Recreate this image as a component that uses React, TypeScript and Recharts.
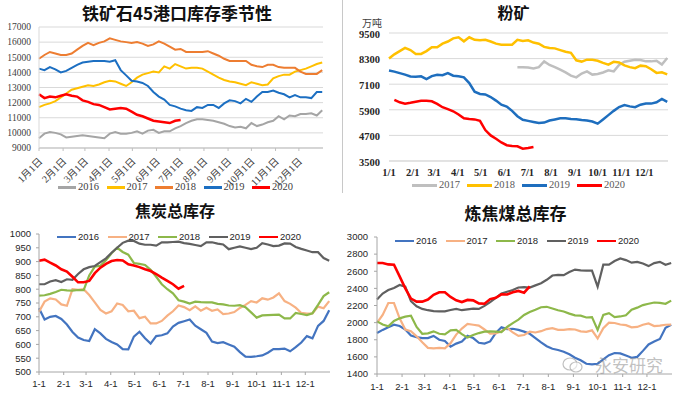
import React from 'react';
import { LineChart, Line, XAxis, YAxis, CartesianGrid } from 'recharts';

// ---------- shared categories ----------
const monthDays = [0, 31, 59, 90, 120, 151, 181, 212, 243, 273, 304, 334];
const cnMonthLabels = ['1月1日', '2月1日', '3月1日', '4月1日', '5月1日', '6月1日', '7月1日', '8月1日', '9月1日', '10月1日', '11月1日', '12月1日'];
const slashLabels = ['1/1', '2/1', '3/1', '4/1', '5/1', '6/1', '7/1', '8/1', '9/1', '10/1', '11/1', '12/1'];
const dashLabels = ['1-1', '2-1', '3-1', '4-1', '5-1', '6-1', '7-1', '8-1', '9-1', '10-1', '11-1', '12-1'];

// ---------- chart 1: 铁矿石45港口库存季节性 (weekly) ----------
const iron2016 = [9650, 9950, 10050, 10000, 9900, 9700, 9750, 9800, 9850, 9800, 9750, 9700, 9650, 9950, 10050, 9950, 9950, 10000, 10100, 9950, 10150, 10200, 10000, 10100, 10100, 10300, 10450, 10650, 10800, 10900, 10900, 10850, 10800, 10700, 10600, 10450, 10350, 10400, 10300, 10650, 10450, 10550, 10700, 10800, 11100, 10900, 11150, 11100, 11250, 11250, 11300, 11150, 11500];
const iron2017 = [11700, 11850, 11950, 12100, 12350, 12600, 12850, 12950, 13050, 13150, 13100, 13200, 13350, 13450, 13400, 13250, 13100, 13350, 13650, 13850, 13950, 14050, 14000, 14400, 14250, 14550, 14400, 14250, 14300, 14300, 14250, 14050, 13850, 13650, 13500, 13400, 13350, 13250, 13150, 13350, 13250, 13150, 13200, 13600, 13750, 13850, 13850, 14050, 14150, 14250, 14400, 14550, 14650];
const iron2018 = [14900, 15150, 15350, 15250, 15150, 15150, 15250, 15500, 15750, 15950, 15800, 15950, 16050, 16250, 16150, 16050, 16000, 15950, 16000, 15900, 15750, 15850, 16050, 15900, 15700, 15500, 15550, 15350, 15350, 15350, 15350, 15400, 15250, 15100, 14900, 14750, 14750, 14750, 14750, 14500, 14400, 14350, 14500, 14500, 14350, 14300, 14300, 14300, 14050, 13900, 13900, 13900, 14150];
const iron2019 = [14250, 14150, 14350, 14200, 14000, 14100, 14300, 14500, 14650, 14700, 14750, 14750, 14750, 14700, 14800, 14150, 13800, 13450, 13400, 13300, 13100, 12700, 12400, 12200, 11850, 11750, 11600, 11500, 11450, 11700, 11650, 11850, 11850, 11650, 11950, 12150, 12100, 11950, 12250, 12050, 12400, 12700, 12700, 12800, 12650, 12550, 12350, 12500, 12350, 12350, 12300, 12700, 12700];
const iron2020 = [12550, 12300, 12400, 12350, 12450, 12550, 12450, 12400, 12150, 12050, 11900, 11850, 11700, 11550, 11600, 11650, 11600, 11400, 11200, 11100, 10950, 10800, 10750, 10700, 10650, 10800, 10850];
const ironTicks = [9000, 10000, 11000, 12000, 13000, 14000, 15000, 16000, 17000];

// ---------- chart 2: 粉矿 (万吨) ----------
const fine2017 = [null, null, null, null, null, null, null, null, null, null, null, null, null, null, null, null, null, null, null, null, null, null, null, null, 7890, 7890, 7880, 7840, 7900, 8170, 8000, 7900, 7780, 7650, 7500, 7420, 7600, 7700, 7550, 7580, 7650, 7750, 7700, 8000, 8150, 8200, 8250, 8230, 8170, 8170, 8200, 8020, 8330];
const fine2018 = [8300, 8500, 8650, 8800, 8700, 8520, 8520, 8650, 8830, 8830, 9000, 9100, 9250, 9300, 9110, 9300, 9180, 9160, 9180, 9100, 9000, 8950, 8950, 8950, 9180, 9130, 9160, 9050, 9000, 8850, 8800, 8780, 8700, 8620, 8570, 8220, 8160, 8250, 8250, 8200, 8100, 8020, 8150, 8120, 7980, 7900, 7850, 7970, 7940, 7800, 7630, 7660, 7560];
const fine2019 = [7740, 7690, 7620, 7550, 7460, 7450, 7470, 7340, 7480, 7540, 7520, 7620, 7500, 7470, 7420, 7150, 6750, 6640, 6620, 6500, 6330, 6140, 6050, 5850, 5600, 5430, 5380, 5330, 5280, 5300, 5400, 5450, 5500, 5500, 5470, 5460, 5420, 5400, 5350, 5250, 5450, 5650, 5850, 6030, 6120, 6060, 6020, 6140, 6190, 6190, 6250, 6410, 6270];
const fine2020 = [null, 6370, 6250, 6190, 6230, 6280, 6320, 6320, 6300, 6180, 6020, 5930, 5830, 5680, 5500, 5470, 5450, 5380, 4950, 4700, 4540, 4370, 4240, 4200, 4190, 4080, 4110, 4160];
const fineTicks = [3500, 4700, 5900, 7100, 8300, 9500];

// ---------- chart 3: 焦炭总库存 ----------
const coke2016 = [731, 690, 700, 703, 692, 672, 645, 625, 616, 612, 655, 640, 620, 609, 600, 583, 582, 628, 646, 622, 603, 630, 633, 640, 665, 678, 684, 690, 668, 655, 642, 610, 605, 608, 600, 592, 572, 556, 555, 557, 560, 570, 583, 583, 585, 575, 590, 607, 630, 622, 667, 685, 724];
const coke2017 = [718, 755, 767, 763, 745, 740, 800, 798, 800, 779, 752, 725, 712, 720, 748, 743, 720, 722, 695, 700, 676, 676, 685, 704, 720, 741, 735, 724, 738, 722, 733, 722, 727, 710, 712, 717, 732, 743, 757, 752, 767, 762, 770, 785, 757, 747, 733, 714, 712, 712, 737, 731, 757];
const coke2018 = [777, 778, 783, 790, 798, 796, 795, 797, 797, 850, 882, 885, 905, 930, 950, 935, 925, 895, 892, 888, 870, 845, 818, 800, 785, 760, 755, 748, 755, 753, 752, 752, 747, 745, 741, 740, 742, 735, 716, 697, 705, 706, 707, 708, 694, 694, 714, 710, 706, 713, 743, 775, 789];
const coke2019 = [818, 818, 828, 833, 826, 836, 834, 855, 872, 880, 884, 898, 912, 932, 950, 968, 976, 975, 965, 961, 961, 958, 970, 970, 971, 972, 967, 964, 960, 956, 970, 970, 965, 962, 945, 950, 955, 950, 945, 950, 967, 962, 956, 958, 966, 965, 953, 946, 940, 934, 934, 913, 903];
const coke2020 = [903, 907, 896, 886, 872, 864, 845, 825, 825, 830, 858, 878, 892, 902, 906, 904, 890, 886, 880, 872, 866, 855, 842, 830, 818, 802, 812];
const cokeTicks = [500, 550, 600, 650, 700, 750, 800, 850, 900, 950, 1000];

// ---------- chart 4: 炼焦煤总库存 ----------
const coal2016 = [1879, 1915, 1945, 1975, 1960, 1920, 1850, 1830, 1820, 1820, 1845, 1800, 1785, 1720, 1755, 1780, 1845, 1820, 1765, 1755, 1780, 1880, 1945, 1925, 1928, 1915, 1895, 1870, 1820, 1770, 1725, 1695, 1680, 1660, 1630, 1590, 1560, 1520, 1512, 1520, 1570, 1620, 1645, 1640, 1615, 1590, 1600, 1670, 1745, 1780, 1810, 1940, 1976];
const coal2017 = [1996, 2090, 2229, 2229, 2050, 1920, 1900, 1840, 1770, 1705, 1700, 1705, 1700, 1760, 1860, 1930, 1985, 1975, 1965, 1920, 1870, 1873, 1900, 1940, 1885, 1845, 1855, 1895, 1885, 1900, 1925, 1935, 1915, 1915, 1925, 1920, 1898, 1892, 1910, 1815, 1935, 2000, 1996, 1978, 1970, 1945, 1950, 1975, 1990, 1960, 1965, 1975, 1976];
const coal2018 = [2015, 1978, 1957, 2020, 2050, 2070, 2080, 1950, 1870, 1875, 1898, 1870, 1862, 1910, 1915, 1865, 1825, 1855, 1878, 1895, 1898, 1895, 1890, 1950, 1995, 2035, 2090, 2125, 2150, 2180, 2185, 2165, 2145, 2130, 2105, 2085, 2082, 2060, 2064, 1915, 2090, 2110, 2065, 2072, 2085, 2150, 2175, 2205, 2220, 2235, 2230, 2220, 2257];
const coal2019 = [2270, 2340, 2380, 2405, 2440, 2420, 2250, 2190, 2160, 2145, 2135, 2132, 2132, 2148, 2160, 2145, 2155, 2163, 2160, 2195, 2240, 2290, 2340, 2360, 2380, 2410, 2415, 2410, 2435, 2460, 2500, 2550, 2558, 2555, 2590, 2620, 2610, 2607, 2607, 2420, 2677, 2677, 2720, 2750, 2730, 2700, 2710, 2690, 2660, 2695, 2710, 2675, 2696];
const coal2020 = [2696, 2696, 2680, 2677, 2540, 2400, 2280, 2245, 2245, 2270, 2325, 2355, 2355, 2300, 2260, 2240, 2265, 2260, 2225, 2220, 2275, 2290, 2330, 2328, 2355, 2370, 2350, 2424];
const coalTicks = [1400, 1600, 1800, 2000, 2200, 2400, 2600, 2800, 3000];

type Ser = { key: string; values: (number | null)[]; color: string; width: number };

function buildRows(series: Ser[]) {
  const n = Math.max(...series.map((s) => s.values.length));
  const out: any[] = [];
  for (let i = 0; i < n; i++) {
    const r: any = { d: i * 7 };
    series.forEach((s) => {
      const v = s.values[i];
      r[s.key] = v === undefined ? null : v;
    });
    out.push(r);
  }
  return out;
}

const SERIF = '"Liberation Serif", "Noto Sans CJK SC", serif';
const SANS = '"Liberation Sans", Arial, "Noto Sans CJK SC", sans-serif';
const CJK = '"Noto Sans CJK SC", sans-serif';

const ironSeries: Ser[] = [
  { key: 'y2016', values: iron2016, color: '#A5A5A5', width: 2 },
  { key: 'y2017', values: iron2017, color: '#FFC000', width: 2 },
  { key: 'y2018', values: iron2018, color: '#ED7D31', width: 2 },
  { key: 'y2019', values: iron2019, color: '#1C6FC2', width: 2 },
  { key: 'y2020', values: iron2020, color: '#FF0000', width: 2.5 },
];
const fineSeries: Ser[] = [
  { key: 'y2017', values: fine2017, color: '#BFBFBF', width: 2.5 },
  { key: 'y2018', values: fine2018, color: '#FFC000', width: 2.5 },
  { key: 'y2019', values: fine2019, color: '#1E6EBE', width: 2.5 },
  { key: 'y2020', values: fine2020, color: '#FF0000', width: 2.5 },
];
const cokeSeries: Ser[] = [
  { key: 'y2016', values: coke2016, color: '#4374C0', width: 2.2 },
  { key: 'y2017', values: coke2017, color: '#F7B183', width: 2.2 },
  { key: 'y2018', values: coke2018, color: '#8DB84A', width: 2.2 },
  { key: 'y2019', values: coke2019, color: '#606060', width: 2.2 },
  { key: 'y2020', values: coke2020, color: '#FF0000', width: 2.6 },
];
const coalSeries: Ser[] = [
  { key: 'y2016', values: coal2016, color: '#4374C0', width: 2.2 },
  { key: 'y2017', values: coal2017, color: '#F7B183', width: 2.2 },
  { key: 'y2018', values: coal2018, color: '#8DB84A', width: 2.2 },
  { key: 'y2019', values: coal2019, color: '#606060', width: 2.2 },
  { key: 'y2020', values: coal2020, color: '#FF0000', width: 2.6 },
];

const ironRows = buildRows(ironSeries);
const fineRows = buildRows(fineSeries);
const cokeRows = buildRows(cokeSeries);
const coalRows = buildRows(coalSeries);

function Legend({ items, left, top, gap, lineW, font, size, thick, color }: any) {
  return (
    <div style={{ position: 'absolute', left, top, display: 'flex', alignItems: 'center', whiteSpace: 'nowrap' }}>
      {items.map((s: Ser) => (
        <div key={s.key} style={{ display: 'flex', alignItems: 'center', width: gap }}>
          <div style={{ width: lineW, height: thick, background: s.color, marginRight: 2 }} />
          <span style={{ fontFamily: font, fontSize: size, color, lineHeight: 1 }}>{s.key.slice(1)}</span>
        </div>
      ))}
    </div>
  );
}

const RotTick = (props: any) => {
  const { x, y, payload } = props;
  const idx = monthDays.indexOf(payload.value);
  const ax = x + 4;
  const ay = y + 9;
  return (
    <text x={ax} y={ay} transform={`rotate(-45, ${ax}, ${ay})`} textAnchor="end" fontFamily={SERIF} fontSize={10} fill="#404040">
      {cnMonthLabels[idx]}
    </text>
  );
};

function lines(series: Ser[]) {
  return series.map((s) => (
    <Line key={s.key} type="linear" dataKey={s.key} stroke={s.color} strokeWidth={s.width} dot={false} isAnimationActive={false} connectNulls={false} />
  ));
}

export default function App() {
  return (
    <div style={{ position: 'absolute', left: 0, top: 0, width: 679, height: 394, background: '#fff', overflow: 'hidden' }}>
      {/* Chart 1 */}
      <div style={{ position: 'absolute', left: 0, top: 2, width: 340, textAlign: 'center', fontFamily: CJK, fontWeight: 700, fontSize: 17, paddingLeft: 14, boxSizing: 'border-box', lineHeight: '22px', color: '#111' }}>
        铁矿石45港口库存季节性
      </div>
      <div style={{ position: 'absolute', left: 0, top: 0 }}>
        <LineChart width={340} height={195} data={ironRows} margin={{ top: 27, right: 17, bottom: 0, left: 0 }}>
          <CartesianGrid vertical={false} stroke="#D9D9D9" />
          <XAxis dataKey="d" type="number" domain={[0, 365]} ticks={monthDays} height={47} interval={0} tick={<RotTick />} tickSize={3} tickLine={{ stroke: '#BFBFBF' }} axisLine={{ stroke: '#BFBFBF' }} />
          <YAxis type="number" domain={[9000, 17000]} ticks={ironTicks} width={39} interval={0} tickLine={false} tickSize={0} tickMargin={8} axisLine={{ stroke: '#D9D9D9' }} tick={{ fontFamily: SERIF, fontSize: 9.5, fill: '#404040' }} />
          {lines(ironSeries)}
        </LineChart>
      </div>
      <Legend items={ironSeries} left={58} top={182} gap={48.5} lineW={18} font={SERIF} size={10.5} thick={2.5} color="#404040" />

      {/* Chart 2 */}
      <div style={{ position: 'absolute', left: 342, top: 0, width: 1, height: 193, background: '#C8C8C8' }} />
      <div style={{ position: 'absolute', left: 340, top: 1, width: 339, paddingLeft: 8, boxSizing: 'border-box', textAlign: 'center', fontFamily: CJK, fontWeight: 700, fontSize: 16, lineHeight: '22px', color: '#111' }}>
        粉矿
      </div>
      <div style={{ position: 'absolute', left: 362, top: 18, fontFamily: CJK, fontSize: 10, lineHeight: '10px', color: '#404040' }}>万吨</div>
      <div style={{ position: 'absolute', left: 340, top: 0 }}>
        <LineChart width={339} height={195} data={fineRows} margin={{ top: 33, right: 11, bottom: 0, left: 0 }}>
          <CartesianGrid vertical={false} stroke="#D9D9D9" />
          <XAxis dataKey="d" type="number" domain={[0, 365]} ticks={monthDays} height={34} interval={0} tickFormatter={(v: number) => slashLabels[monthDays.indexOf(v)]} tickLine={false} tickSize={0} tickMargin={8} axisLine={{ stroke: '#D9D9D9' }} tick={{ fontFamily: SERIF, fontSize: 10.5, fontWeight: 700, fill: '#262626' }} />
          <YAxis type="number" domain={[3500, 9500]} ticks={fineTicks} width={49} interval={0} tickLine={false} tickSize={0} tickMargin={9} axisLine={false} tick={{ fontFamily: SERIF, fontSize: 10.5, fontWeight: 700, fill: '#262626', dy: 1 }} />
          {lines(fineSeries)}
        </LineChart>
      </div>
      <Legend items={fineSeries} left={412} top={180} gap={55} lineW={25} font={SERIF} size={10.5} thick={2.5} color="#595959" />

      {/* Chart 3 */}
      <div style={{ position: 'absolute', left: 0, top: 199, width: 340, paddingLeft: 10, boxSizing: 'border-box', textAlign: 'center', fontFamily: CJK, fontWeight: 700, fontSize: 16, lineHeight: '22px', color: '#111' }}>
        焦炭总库存
      </div>
      <div style={{ position: 'absolute', left: 0, top: 195 }}>
        <LineChart width={340} height={199} data={cokeRows} margin={{ top: 39, right: 10, bottom: 0, left: 0 }}>
          <XAxis dataKey="d" type="number" domain={[0, 365]} ticks={monthDays} height={22} interval={0} tickFormatter={(v: number) => dashLabels[monthDays.indexOf(v)]} tickLine={{ stroke: '#A6A6A6' }} tickSize={3} tickMargin={5} axisLine={{ stroke: '#A6A6A6' }} tick={{ fontFamily: SANS, fontSize: 9.5, fill: '#262626' }} />
          <YAxis type="number" domain={[500, 1000]} ticks={cokeTicks} width={39} interval={0} tickLine={{ stroke: '#A6A6A6' }} tickSize={3} tickMargin={5} axisLine={{ stroke: '#A6A6A6' }} tick={{ fontFamily: SANS, fontSize: 9.5, fill: '#262626' }} />
          {lines(cokeSeries)}
        </LineChart>
      </div>
      <Legend items={cokeSeries} left={57} top={232} gap={50.5} lineW={19} font={SANS} size={9.5} thick={2.5} color="#262626" />

      {/* Chart 4 */}
      <div style={{ position: 'absolute', left: 340, top: 202, width: 339, paddingLeft: 12, boxSizing: 'border-box', textAlign: 'center', fontFamily: CJK, fontWeight: 700, fontSize: 17, lineHeight: '22px', color: '#111' }}>
        炼焦煤总库存
      </div>
      <div style={{ position: 'absolute', left: 340, top: 195 }}>
        <LineChart width={339} height={199} data={coalRows} margin={{ top: 42, right: 7, bottom: 0, left: 0 }}>
          <XAxis dataKey="d" type="number" domain={[0, 365]} ticks={monthDays} height={20} interval={0} tickFormatter={(v: number) => dashLabels[monthDays.indexOf(v)]} tickLine={{ stroke: '#A6A6A6' }} tickSize={3} tickMargin={6} axisLine={{ stroke: '#A6A6A6' }} tick={{ fontFamily: SANS, fontSize: 9.5, fill: '#262626' }} />
          <YAxis type="number" domain={[1400, 3000]} ticks={coalTicks} width={37} interval={0} tickLine={{ stroke: '#A6A6A6' }} tickSize={3} tickMargin={6} axisLine={{ stroke: '#A6A6A6' }} tick={{ fontFamily: SANS, fontSize: 9.5, fill: '#262626' }} />
          {lines(coalSeries)}
        </LineChart>
      </div>
      <Legend items={coalSeries} left={395} top={236} gap={50.5} lineW={19} font={SANS} size={9.5} thick={2.5} color="#262626" />

      {/* watermark */}
      <svg style={{ position: 'absolute', left: 562, top: 356 }} width={22} height={18}>
        <ellipse cx={8} cy={8} rx={7} ry={6} fill="none" stroke="rgba(150,150,150,0.6)" strokeWidth={1.2} />
        <ellipse cx={14} cy={11} rx={6} ry={5} fill="rgba(255,255,255,0.6)" stroke="rgba(150,150,150,0.6)" strokeWidth={1.2} />
      </svg>
      <div style={{ position: 'absolute', left: 595, top: 355, fontFamily: CJK, fontSize: 17, color: 'rgba(140,140,140,0.55)', lineHeight: '20px' }}>
        永安研究
      </div>
    </div>
  );
}
